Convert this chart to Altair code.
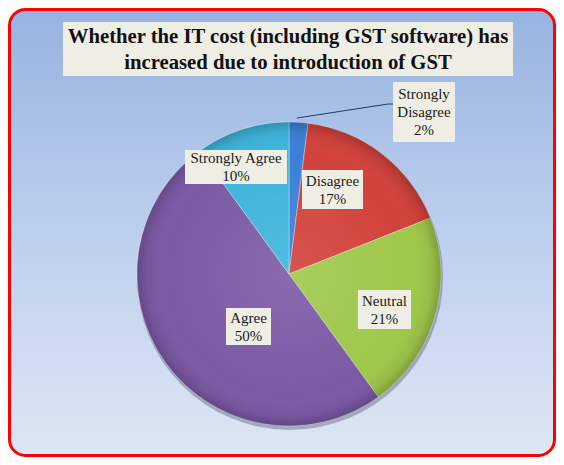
import altair as alt
import pandas as pd

# ---- data ----
categories = ["Strongly Disagree", "Disagree", "Neutral", "Agree", "Strongly Agree"]
values = [2, 17, 21, 50, 10]
label_texts = ["Strongly\nDisagree\n2%", "Disagree\n17%", "Neutral\n21%", "Agree\n50%", "Strongly Agree\n10%"]
colors = ["#3b80d8", "#d3423c", "#9ec84a", "#7c5aa6", "#3db5da"]
title_lines = "Whether the IT cost (including GST software) has\nincreased due to introduction of GST"

# ---- layout (pixels in plot area) ----
W, H = 548, 449
CX, CY, R = 281, 266, 152
LH = 18
# label anchors: (block center x, block center y, box x1, box x2, box y1, box y2)
label_layout = {
    "Strongly Disagree": (416, 104, 385, 447, 74, 134),
    "Disagree": (324.5, 181.5, 294, 355, 162, 201),
    "Neutral": (376.5, 301.5, 350, 403, 282, 321),
    "Agree": (240.5, 318.5, 218, 263, 300, 337),
    "Strongly Agree": (228, 159, 177, 279, 142, 176),
}

df = pd.DataFrame({"category": categories, "value": values, "idx": list(range(len(categories)))})
nlines = [t.count("\n") + 1 for t in label_texts]
lab = pd.DataFrame({
    "category": categories,
    "label": label_texts,
    "tx": [label_layout[c][0] for c in categories],
    "ty": [label_layout[c][1] - (n - 1) * LH / 2 for c, n in zip(categories, nlines)],
    "bx1": [label_layout[c][2] for c in categories],
    "bx2": [label_layout[c][3] for c in categories],
    "by1": [label_layout[c][4] for c in categories],
    "by2": [label_layout[c][5] for c in categories],
})
one = pd.DataFrame({"a": [0]})

bg_grad = alt.Gradient(
    gradient="linear", x1=0, x2=0, y1=0, y2=1,
    stops=[alt.GradientStop(color="#97b3e0", offset=0),
           alt.GradientStop(color="#bdcfee", offset=0.5),
           alt.GradientStop(color="#dee6f3", offset=1)],
)
shade_grad = alt.Gradient(
    gradient="radial", x1=0.5, y1=0.5, r1=0, x2=0.5, y2=0.5, r2=0.5,
    stops=[alt.GradientStop(color="rgba(255,255,255,0.10)", offset=0),
           alt.GradientStop(color="rgba(255,255,255,0.0)", offset=0.8),
           alt.GradientStop(color="rgba(0,0,0,0.06)", offset=0.94),
           alt.GradientStop(color="rgba(0,0,0,0.2)", offset=1)],
)

background = alt.Chart(one).mark_rect(
    fill=bg_grad, stroke="#ff0000", strokeWidth=3, cornerRadius=16
).encode(x=alt.value(1.5), x2=alt.value(W - 1.5), y=alt.value(1.5), y2=alt.value(H - 1.5))

title_box = alt.Chart(one).mark_rect(fill="#efeee4").encode(
    x=alt.value(55), x2=alt.value(505), y=alt.value(14), y2=alt.value(68)
)
title_text = alt.Chart(one).mark_text(
    text=title_lines, lineBreak="\n", font="Liberation Serif", fontSize=20.7,
    fontWeight="bold", lineHeight=26, align="center", baseline="middle", color="#111111"
).encode(x=alt.value(280), y=alt.value(29))

shadow = alt.Chart(one).mark_arc(radius=R + 1, color="#3c3f5a", opacity=0.35).encode(
    theta=alt.value(6.2832), x=alt.value(CX + 1), y=alt.value(CY + 3)
)

pie = alt.Chart(df).mark_arc(radius=R, stroke="#ffffff", strokeOpacity=0.35, strokeWidth=1).encode(
    theta=alt.Theta("value:Q", stack=True),
    color=alt.Color("category:N", scale=alt.Scale(domain=categories, range=colors), legend=None),
    order=alt.Order("idx:Q"),
    x=alt.value(CX), y=alt.value(CY),
)

shade = alt.Chart(one).mark_arc(radius=R, fill=shade_grad).encode(
    theta=alt.value(6.2832), x=alt.value(CX), y=alt.value(CY)
)

leader = alt.Chart(pd.DataFrame({"px": [289, 380, 385], "py": [110, 96, 96], "o": [0, 1, 2]})).mark_line(
    color="#1f3a66", strokeWidth=1
).encode(x=alt.X("px:Q", scale=None), y=alt.Y("py:Q", scale=None), order="o:Q")

boxes = alt.Chart(lab).mark_rect(fill="#efeee4").encode(
    x=alt.X("bx1:Q", scale=None), x2="bx2:Q", y=alt.Y("by1:Q", scale=None), y2="by2:Q"
)
texts = alt.Chart(lab).mark_text(
    lineBreak="\n", font="Liberation Serif", fontSize=15, lineHeight=LH,
    align="center", baseline="middle", color="#1a1a1a"
).encode(x=alt.X("tx:Q", scale=None), y=alt.Y("ty:Q", scale=None), text="label:N")

chart = alt.layer(background, title_box, title_text, shadow, pie, shade, leader, boxes, texts).properties(
    width=W, height=H, padding=0, autosize=alt.AutoSizeParams(type="none"), background="white"
).configure_view(stroke=None)

chart.save("out.html", embed_options={"renderer": "svg", "actions": False})
